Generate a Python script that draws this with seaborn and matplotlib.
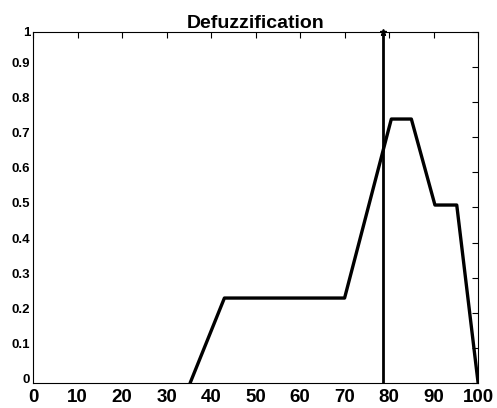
import pandas as pd
import numpy as np
import matplotlib.pyplot as plt
import seaborn as sns

# aggregated output membership (polyline)
x_vals = [35.3, 43.0, 70.0, 80.5, 85.0, 90.3, 95.2, 100.0]
mu_vals = [0.0, 0.242, 0.242, 0.752, 0.752, 0.507, 0.507, 0.0]
# defuzzified (centroid) value
centroid = 78.7
x_ticks = [0, 10, 20, 30, 40, 50, 60, 70, 80, 90, 100]
y_ticks = [0, 0.1, 0.2, 0.3, 0.4, 0.5, 0.6, 0.7, 0.8, 0.9, 1]
y_labels = ['0', '0.1', '0.2', '0.3', '0.4', '0.5', '0.6', '0.7', '0.8', '0.9', '1']

sns.set_style('white')
plt.rcParams['font.family'] = ['Liberation Sans', 'DejaVu Sans']
plt.rcParams['text.color'] = 'black'
plt.rcParams['xtick.color'] = 'black'
plt.rcParams['ytick.color'] = 'black'

df = pd.DataFrame({'x': x_vals, 'mu': mu_vals})
cent_df = pd.DataFrame({'x': [centroid, centroid], 'mu': [0, 1]})

fig = plt.figure(figsize=(4.97, 4.08), dpi=100)
ax = fig.add_axes([0.0664, 0.0613, 0.8956, 0.8603])
sns.lineplot(data=df, x='x', y='mu', color='black', linewidth=2.4, sort=False,
             estimator=None, ax=ax)
sns.lineplot(data=cent_df, x='x', y='mu', color='black', linewidth=2.0, sort=False,
             estimator=None, ax=ax)
ax.plot([centroid], [1], marker='*', color='black', markersize=5, clip_on=False)

ax.set_xlim(0, 100)
ax.set_ylim(0, 1)
ax.set_xticks(x_ticks)
ax.set_xticklabels([str(t) for t in x_ticks], fontsize=13.5, fontweight='bold', color='black')
ax.set_yticks(y_ticks)
ax.set_yticklabels(y_labels, fontsize=9.5, fontweight='bold', color='black')
for lab in ax.get_yticklabels()[:-1]:
    lab.set_verticalalignment('baseline')
ax.tick_params(direction='in', length=4, width=0.8, top=True, right=True, pad=2)
ax.tick_params(axis='x', pad=4)
for s in ax.spines.values():
    s.set_linewidth(0.8)
    s.set_color('black')
ax.set_xlabel('')
ax.set_ylabel('')
ax.set_title('Defuzzification', fontsize=14, fontweight='bold', pad=3, color='black')

fig.savefig('out.png', dpi=100)
